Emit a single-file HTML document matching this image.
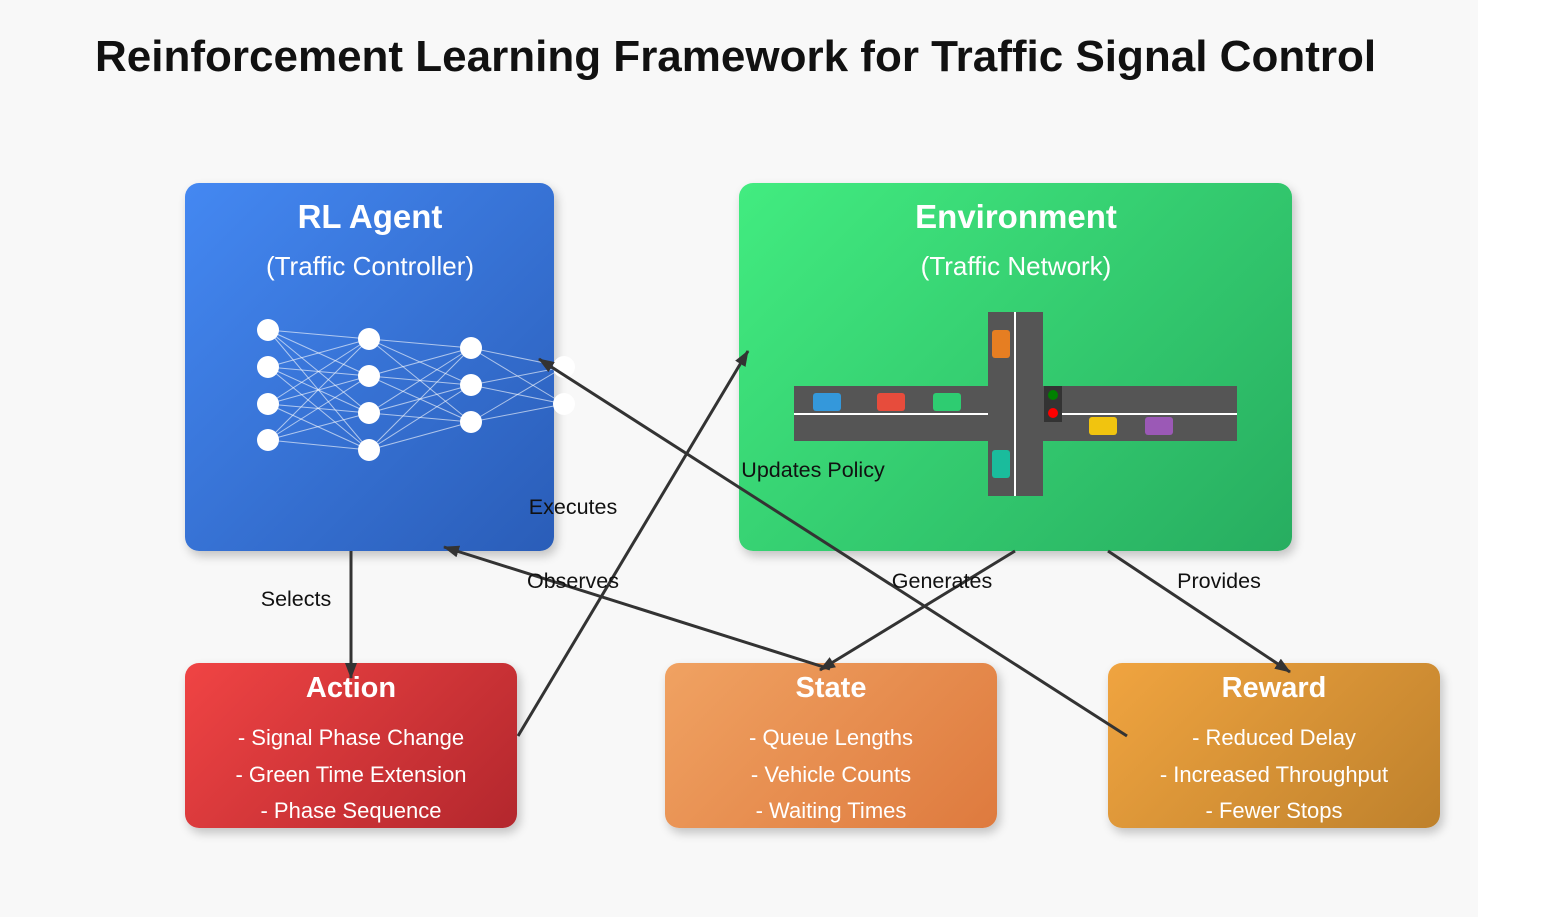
<!DOCTYPE html>
<html><head><style>
body{margin:0;width:1565px;height:917px;background:#fff;font-family:"Liberation Sans",sans-serif;position:relative;overflow:hidden}
#bg{position:absolute;left:0;top:0;width:1478px;height:917px;background:#f8f8f8}
.t{position:absolute;white-space:nowrap}
.box{position:absolute;border-radius:14px;box-shadow:3px 5px 10px rgba(0,0,0,0.22)}
.c{position:absolute;transform:translateX(-50%);white-space:nowrap;color:#fff}
</style></head><body>
<div id="bg"></div>
<div class="t" style="left:95px;top:32px;font-size:44px;font-weight:bold;color:#111">Reinforcement Learning Framework for Traffic Signal Control</div>
<div class="box" style="left:185px;top:183px;width:369px;height:368px;background:linear-gradient(135deg,#4488f2,#2a5db8)"></div>
<div class="box" style="left:739px;top:183px;width:553px;height:368px;background:linear-gradient(135deg,#42ec80,#27ad60)"></div>
<div class="box" style="left:185px;top:663px;width:332px;height:165px;background:linear-gradient(135deg,#f04444,#b3272d)"></div>
<div class="box" style="left:665px;top:663px;width:332px;height:165px;background:linear-gradient(135deg,#f0a262,#de7a3e)"></div>
<div class="box" style="left:1108px;top:663px;width:332px;height:165px;background:linear-gradient(135deg,#f0a440,#be812c)"></div>
<div class="c" style="left:370px;top:198px;font-size:33px;font-weight:bold">RL Agent</div>
<div class="c" style="left:370px;top:251px;font-size:26px">(Traffic Controller)</div>
<div class="c" style="left:1016px;top:198px;font-size:33px;font-weight:bold">Environment</div>
<div class="c" style="left:1016px;top:251px;font-size:26px">(Traffic Network)</div>
<div class="c" style="left:351px;top:672px;font-size:29px;font-weight:bold">Action</div>
<div class="c" style="left:351px;top:725px;font-size:22px">- Signal Phase Change</div>
<div class="c" style="left:351px;top:762px;font-size:22px">- Green Time Extension</div>
<div class="c" style="left:351px;top:798px;font-size:22px">- Phase Sequence</div>
<div class="c" style="left:831px;top:672px;font-size:29px;font-weight:bold">State</div>
<div class="c" style="left:831px;top:725px;font-size:22px">- Queue Lengths</div>
<div class="c" style="left:831px;top:762px;font-size:22px">- Vehicle Counts</div>
<div class="c" style="left:831px;top:798px;font-size:22px">- Waiting Times</div>
<div class="c" style="left:1274px;top:672px;font-size:29px;font-weight:bold">Reward</div>
<div class="c" style="left:1274px;top:725px;font-size:22px">- Reduced Delay</div>
<div class="c" style="left:1274px;top:762px;font-size:22px">- Increased Throughput</div>
<div class="c" style="left:1274px;top:798px;font-size:22px">- Fewer Stops</div>
<svg width="1565" height="917" style="position:absolute;left:0;top:0">
<defs><marker id="a" markerWidth="16" markerHeight="12" refX="15" refY="6" orient="auto" markerUnits="userSpaceOnUse" viewBox="0 0 16 12"><path d="M0,0L16,6L0,12z" fill="#333"/></marker></defs>
<g id="nn" stroke="rgba(255,255,255,0.6)" stroke-width="1"></g>
<g fill="#fff" id="nodes"></g>
<rect x="794" y="386" width="443" height="55" fill="#555"/>
<rect x="988" y="312" width="55" height="184" fill="#555"/>
<line x1="794" y1="414" x2="988" y2="414" stroke="#fff" stroke-width="2"/>
<line x1="1062" y1="414" x2="1237" y2="414" stroke="#fff" stroke-width="2"/>
<line x1="1015" y1="312" x2="1015" y2="496" stroke="#fff" stroke-width="2"/>
<rect x="992" y="330" width="18" height="28" rx="3" fill="#e67e22"/>
<rect x="992" y="450" width="18" height="28" rx="3" fill="#1abc9c"/>
<rect x="813" y="393" width="28" height="18" rx="3" fill="#3498db"/>
<rect x="877" y="393" width="28" height="18" rx="3" fill="#e74c3c"/>
<rect x="933" y="393" width="28" height="18" rx="3" fill="#2ecc71"/>
<rect x="1089" y="417" width="28" height="18" rx="3" fill="#f1c40f"/>
<rect x="1145" y="417" width="28" height="18" rx="3" fill="#9b59b6"/>
<rect x="1044" y="386" width="18" height="36" fill="#333"/>
<circle cx="1053" cy="395" r="5" fill="#008000"/>
<circle cx="1053" cy="413" r="5" fill="#f00"/>
<g stroke="#333" stroke-width="3" fill="none" marker-end="url(#a)">
<line x1="351" y1="551" x2="351" y2="678"/>
<line x1="518" y1="736" x2="748" y2="351"/>
<line x1="830" y1="669" x2="444" y2="547"/>
<line x1="1015" y1="551" x2="820" y2="670"/>
<line x1="1108" y1="551" x2="1290" y2="672"/>
<line x1="1127" y1="736" x2="539" y2="359"/>
</g>
<g font-family="Liberation Sans, sans-serif" font-size="21.5" fill="#111" text-anchor="middle">
<text x="296" y="606">Selects</text>
<text x="573" y="514">Executes</text>
<text x="573" y="588">Observes</text>
<text x="942" y="588">Generates</text>
<text x="1219" y="588">Provides</text>
<text x="813" y="477">Updates Policy</text>
</g>
</svg>
<script>
var L=[[268,[330,367,404,440]],[369,[339,376,413,450]],[471,[348,385,422]],[564,[367,404]]];
var nn=document.getElementById('nn'),nd=document.getElementById('nodes'),s='',c='';
for(var i=0;i<3;i++)for(var a of L[i][1])for(var b of L[i+1][1])s+='<line x1="'+L[i][0]+'" y1="'+a+'" x2="'+L[i+1][0]+'" y2="'+b+'"/>';
for(var l of L)for(var y of l[1])c+='<circle cx="'+l[0]+'" cy="'+y+'" r="11"/>';
nn.innerHTML=s;nd.innerHTML=c;
</script>
</body></html>
